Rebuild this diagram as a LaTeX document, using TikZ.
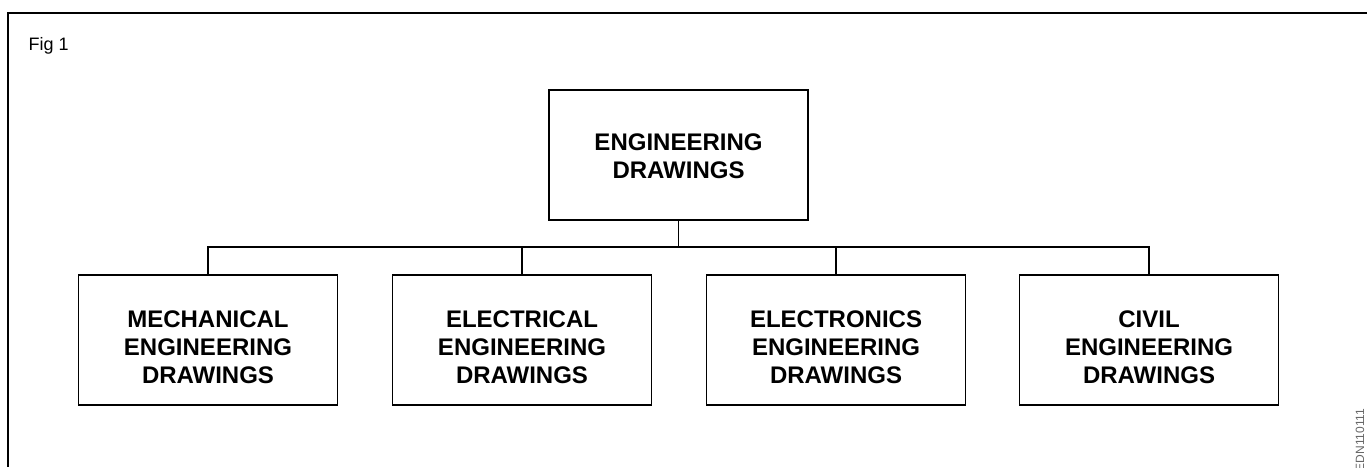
\documentclass[tikz,border=0pt]{standalone}
\usepackage{fontspec}
\setmainfont{Liberation Sans}
\begin{document}
\begin{tikzpicture}[x=1pt, y=1pt,
  box/.style={draw, line width=1.3pt, minimum width=259pt, minimum height=130pt},
  boxtext/.style={align=center, font=\fontsize{24}{28}\selectfont\bfseries},
  link/.style={line width=1.2pt}]
\useasboundingbox (0,0) rectangle (1367,467);
\draw[line width=1.6pt] (1367,454) -- (8,454) -- (8,0);
\node[anchor=west, font=\fontsize{18}{20}\selectfont] (fig) at (25,421){Fig 1};
\node[box] (eng) at (678.5,312){};
\node[boxtext] (engtext) at ([yshift=-1]eng.center){ENGINEERING\\DRAWINGS};
\node[box] (mech) at (208,127){};
\node[boxtext] (mechtext) at ([yshift=-7]mech.center){MECHANICAL\\ENGINEERING\\DRAWINGS};
\node[box] (elec) at (522,127){};
\node[boxtext] (electext) at ([yshift=-7]elec.center){ELECTRICAL\\ENGINEERING\\DRAWINGS};
\node[box] (etro) at (836,127){};
\node[boxtext] (etrotext) at ([yshift=-7]etro.center){ELECTRONICS\\ENGINEERING\\DRAWINGS};
\node[box] (civil) at (1149,127){};
\node[boxtext] (civiltext) at ([yshift=-7]civil.center){CIVIL\\ENGINEERING\\DRAWINGS};
\coordinate (bus) at (678.5,220);
\draw[link] (eng.south) -- (bus);
\draw[link] (bus) -| (mech.north);
\draw[link] (bus) -| (elec.north);
\draw[link] (bus) -| (etro.north);
\draw[link] (bus) -| (civil.north);
\node[rotate=90, anchor=east, text=black!60, font=\fontsize{12}{14}\selectfont] (code) at (1360,62){EDN110111};
\end{tikzpicture}
\end{document}
